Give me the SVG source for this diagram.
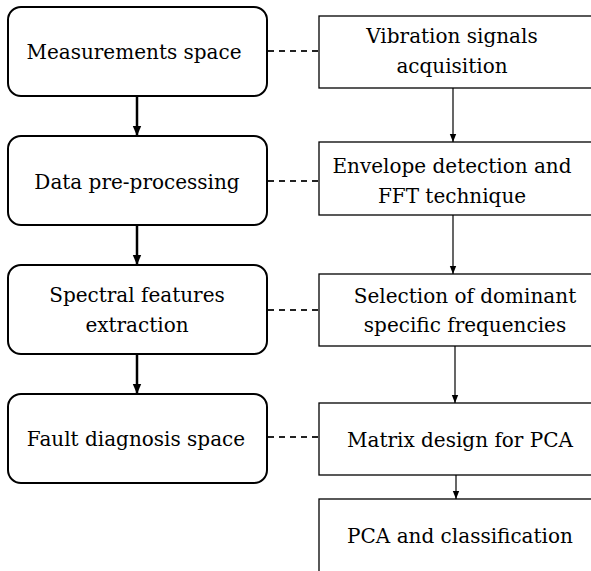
<svg xmlns="http://www.w3.org/2000/svg" width="591" height="571" viewBox="0 0 591 571">
  <style>
    .stage { fill: #ffffff; stroke: #000000; stroke-width: 2; }
    .step { fill: #ffffff; stroke: #000000; stroke-width: 1.3; }
    .label { font-family: 'DejaVu Serif', 'Liberation Serif', serif; font-size: 20px; fill: #000000; text-anchor: middle; }
    .flow-main { stroke: #000000; stroke-width: 2.5; fill: none; }
    .flow-step { stroke: #000000; stroke-width: 1.2; fill: none; }
    .link { stroke: #222222; stroke-width: 2; stroke-dasharray: 6 5; fill: none; }
  </style>
  <defs>
    <marker id="head-main" markerUnits="userSpaceOnUse" markerWidth="10" markerHeight="10" refX="10" refY="5" orient="auto">
      <path d="M0,0.8 L10,5 L0,9.2 Z" fill="#000000"/>
    </marker>
    <marker id="head-step" markerUnits="userSpaceOnUse" markerWidth="8" markerHeight="8" refX="8" refY="4" orient="auto">
      <path d="M0,0.8 L8,4 L0,7.2 Z" fill="#000000"/>
    </marker>
  </defs>
  <rect width="591" height="571" fill="#ffffff"/>

  <!-- connectors -->
  <g id="connectors">
    <!-- stage flow (left column) -->
    <line class="flow-main" x1="137" y1="96" x2="137" y2="136" marker-end="url(#head-main)"/>
    <line class="flow-main" x1="137" y1="225" x2="137" y2="265" marker-end="url(#head-main)"/>
    <line class="flow-main" x1="137" y1="354" x2="137" y2="394" marker-end="url(#head-main)"/>
    <!-- step flow (right column) -->
    <line class="flow-step" x1="453" y1="88" x2="453" y2="142" marker-end="url(#head-step)"/>
    <line class="flow-step" x1="453" y1="215" x2="453" y2="274" marker-end="url(#head-step)"/>
    <line class="flow-step" x1="455" y1="346" x2="455" y2="403" marker-end="url(#head-step)"/>
    <line class="flow-step" x1="456" y1="475" x2="456" y2="499" marker-end="url(#head-step)"/>
    <!-- stage-to-step links -->
    <line class="link" x1="268" y1="51" x2="319" y2="51"/>
    <line class="link" x1="268" y1="181" x2="319" y2="181"/>
    <line class="link" x1="268" y1="310" x2="319" y2="310"/>
    <line class="link" x1="268" y1="437" x2="319" y2="437"/>
  </g>

  <!-- stages -->
  <g id="measurements-space">
    <rect class="stage" x="8" y="7" width="259" height="89" rx="13" ry="13"/>
    <text class="label" x="134" y="59">Measurements space</text>
  </g>
  <g id="data-preprocessing">
    <rect class="stage" x="8" y="136" width="259" height="89" rx="13" ry="13"/>
    <text class="label" x="137" y="189">Data pre-processing</text>
  </g>
  <g id="spectral-features">
    <rect class="stage" x="8" y="265" width="259" height="89" rx="13" ry="13"/>
    <text class="label" x="137" y="302">Spectral features</text>
    <text class="label" x="137" y="332">extraction</text>
  </g>
  <g id="fault-diagnosis-space">
    <rect class="stage" x="8" y="394" width="259" height="89" rx="13" ry="13"/>
    <text class="label" x="136" y="446">Fault diagnosis space</text>
  </g>

  <!-- steps -->
  <g id="vibration-signals">
    <rect class="step" x="319" y="16" width="290" height="72"/>
    <text class="label" x="452" y="43">Vibration signals</text>
    <text class="label" x="452" y="73">acquisition</text>
  </g>
  <g id="envelope-fft">
    <rect class="step" x="319" y="142" width="290" height="73"/>
    <text class="label" x="452" y="173">Envelope detection and</text>
    <text class="label" x="452" y="203">FFT technique</text>
  </g>
  <g id="dominant-frequencies">
    <rect class="step" x="319" y="274" width="290" height="72"/>
    <text class="label" x="465" y="303">Selection of dominant</text>
    <text class="label" x="465" y="332">specific frequencies</text>
  </g>
  <g id="matrix-design">
    <rect class="step" x="319" y="403" width="290" height="72"/>
    <text class="label" x="460" y="447">Matrix design for PCA</text>
  </g>
  <g id="pca-classification">
    <rect class="step" x="319" y="499" width="290" height="90"/>
    <text class="label" x="460" y="543">PCA and classification</text>
  </g>
</svg>
